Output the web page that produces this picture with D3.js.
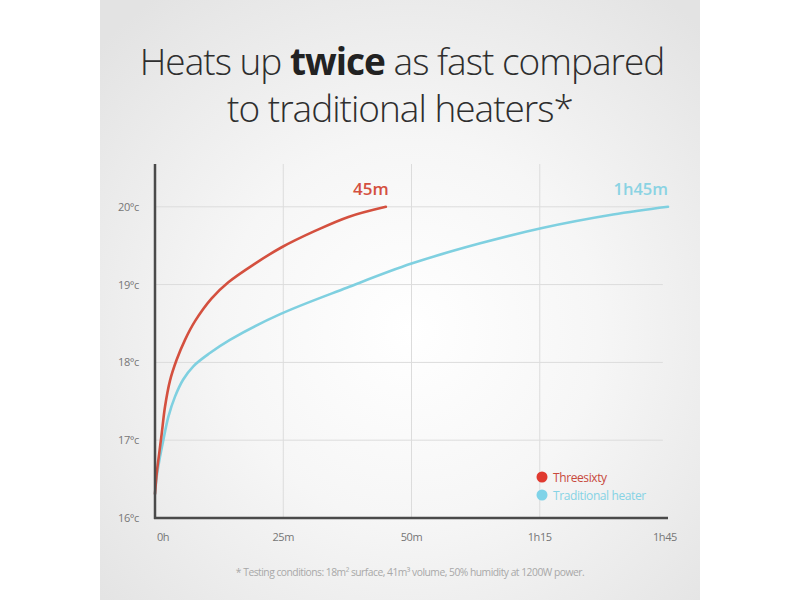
<!DOCTYPE html>
<html>
<head>
<meta charset="utf-8">
<script src="https://cdn.jsdelivr.net/npm/d3@7"></script>
<style>
  html, body { margin: 0; padding: 0; background: #fff; }
  svg { display: block; font-family: "Open Sans", sans-serif; }
</style>
</head>
<body>
<svg id="chart" width="800" height="600"></svg>
<script>
// minutes vs room temperature (°C)
const threesixtyMin  = [0, 0.33, 0.84, 1.3, 1.95, 2.9, 4.2, 5.85, 7.8, 11, 14.3, 19.5, 24.7, 31.2, 37.7, 45];
const threesixtyTemp = [16.31, 16.57, 16.84, 17.08, 17.43, 17.76, 18.03, 18.29, 18.53, 18.82, 19.03, 19.27, 19.48, 19.69, 19.87, 20.0];

const heaterMin  = [0, 0.33, 0.84, 1.62, 2.6, 3.9, 5.5, 7.47, 10.7, 14.6, 24.4, 37.4, 50, 63.4, 75.7, 89.3, 100];
const heaterTemp = [16.31, 16.53, 16.74, 17.0, 17.3, 17.56, 17.78, 17.95, 18.12, 18.29, 18.62, 18.96, 19.27, 19.53, 19.73, 19.9, 20.0];

const xTickValues = [0, 25, 50, 75, 100];
const xTickLabels = ["0h", "25m", "50m", "1h15", "1h45"];
const yTickValues = [16, 17, 18, 19, 20];

const RED = "#d4503f";
const BLUE = "#7fd0e0";

const svg = d3.select("#chart");

// background panel with soft radial light
const defs = svg.append("defs");
const grad = defs.append("radialGradient")
  .attr("id", "bg")
  .attr("cx", 410).attr("cy", 330).attr("r", 420)
  .attr("gradientUnits", "userSpaceOnUse");
grad.append("stop").attr("offset", "0%").attr("stop-color", "#ffffff");
grad.append("stop").attr("offset", "45%").attr("stop-color", "#f6f6f6");
grad.append("stop").attr("offset", "100%").attr("stop-color", "#e3e3e3");

svg.append("rect")
  .attr("x", 100).attr("y", 0)
  .attr("width", 600).attr("height", 600)
  .attr("fill", "url(#bg)");

// title
const title = svg.append("text")
  .attr("text-anchor", "middle")
  .attr("font-size", 37)
  .attr("font-weight", 300)
  .attr("letter-spacing", -1)
  .attr("fill", "#2e2e2e");
const l1 = title.append("tspan").attr("x", 402).attr("y", 75);
l1.append("tspan").text("Heats up ");
l1.append("tspan").attr("font-weight", 700).attr("fill", "#222").text("twice");
l1.append("tspan").text(" as fast compared");
title.append("tspan").attr("x", 400).attr("y", 122).text("to traditional heaters*");

// scales
const x = d3.scaleLinear().domain([0, 100]).range([155, 668]);
const y = d3.scaleLinear().domain([16, 20.55]).range([518, 164]);

// grid
svg.append("g")
  .selectAll("line")
  .data(yTickValues.slice(1))
  .join("line")
  .attr("x1", x(0)).attr("x2", x(99))
  .attr("y1", d => y(d)).attr("y2", d => y(d))
  .attr("stroke", "#dcdcdc").attr("stroke-width", 1);

svg.append("g")
  .selectAll("line")
  .data(xTickValues.slice(1, 4))
  .join("line")
  .attr("x1", d => x(d)).attr("x2", d => x(d))
  .attr("y1", y(20.55)).attr("y2", y(16))
  .attr("stroke", "#dcdcdc").attr("stroke-width", 1);

// y axis labels
svg.append("g")
  .selectAll("text")
  .data(yTickValues)
  .join("text")
  .attr("x", 139)
  .attr("y", d => y(d) + 4)
  .attr("text-anchor", "end")
  .attr("font-size", 11)
  .attr("letter-spacing", -0.4)
  .attr("fill", "#767676")
  .text(d => d + "°c");

// x axis labels
svg.append("g")
  .selectAll("text")
  .data(xTickValues)
  .join("text")
  .attr("x", (d, i) => x(d) + (i === 0 ? 8 : i === 4 ? -3 : 0))
  .attr("y", 541)
  .attr("text-anchor", "middle")
  .attr("font-size", 11)
  .attr("letter-spacing", -0.4)
  .attr("fill", "#767676")
  .text((d, i) => xTickLabels[i]);

// curves
const line = d3.line()
  .x(d => x(d[0]))
  .y(d => y(d[1]))
  .curve(d3.curveCatmullRom.alpha(0.5));

svg.append("path")
  .datum(heaterMin.map((m, i) => [m, heaterTemp[i]]))
  .attr("d", line)
  .attr("fill", "none")
  .attr("stroke", BLUE)
  .attr("stroke-width", 2.6)
  .attr("stroke-linecap", "round");

svg.append("path")
  .datum(threesixtyMin.map((m, i) => [m, threesixtyTemp[i]]))
  .attr("d", line)
  .attr("fill", "none")
  .attr("stroke", RED)
  .attr("stroke-width", 2.6)
  .attr("stroke-linecap", "round");

// axes lines
svg.append("line")
  .attr("x1", x(0)).attr("x2", x(0))
  .attr("y1", y(20.55)).attr("y2", y(16) + 1)
  .attr("stroke", "#4a4a4a").attr("stroke-width", 2.5);
svg.append("line")
  .attr("x1", x(0) - 1).attr("x2", x(100))
  .attr("y1", y(16)).attr("y2", y(16))
  .attr("stroke", "#4a4a4a").attr("stroke-width", 2.5);

// end labels
svg.append("text")
  .attr("x", x(d3.max(threesixtyMin)) - 15)
  .attr("y", 195)
  .attr("text-anchor", "middle")
  .attr("font-size", 17)
  .attr("font-weight", 600)
  .attr("fill", RED)
  .text("45m");

svg.append("text")
  .attr("x", x(d3.max(heaterMin)))
  .attr("y", 195)
  .attr("text-anchor", "end")
  .attr("font-size", 16.5)
  .attr("font-weight", 600)
  .attr("fill", "#8ad3e3")
  .text("1h45m");

// legend
const legend = [
  { name: "Threesixty", dot: "#e03a30", text: "#c8493c" },
  { name: "Traditional heater", dot: "#7fd3e8", text: "#86d3e5" }
];
const lg = svg.append("g").attr("transform", "translate(542,477)");
lg.selectAll("circle")
  .data(legend)
  .join("circle")
  .attr("cx", 0)
  .attr("cy", (d, i) => i * 18)
  .attr("r", 5.5)
  .attr("fill", d => d.dot);
lg.selectAll("text")
  .data(legend)
  .join("text")
  .attr("x", 11)
  .attr("y", (d, i) => i * 18 + 4.5)
  .attr("font-size", 12)
  .attr("letter-spacing", -0.4)
  .attr("fill", d => d.text)
  .text(d => d.name);

// footnote
svg.append("text")
  .attr("x", 410)
  .attr("y", 576)
  .attr("text-anchor", "middle")
  .attr("font-size", 10.3)
  .attr("letter-spacing", -0.5)
  .attr("fill", "#a8a8a8")
  .text("* Testing conditions: 18m² surface, 41m³ volume, 50% humidity at 1200W power.");
</script>
</body>
</html>
